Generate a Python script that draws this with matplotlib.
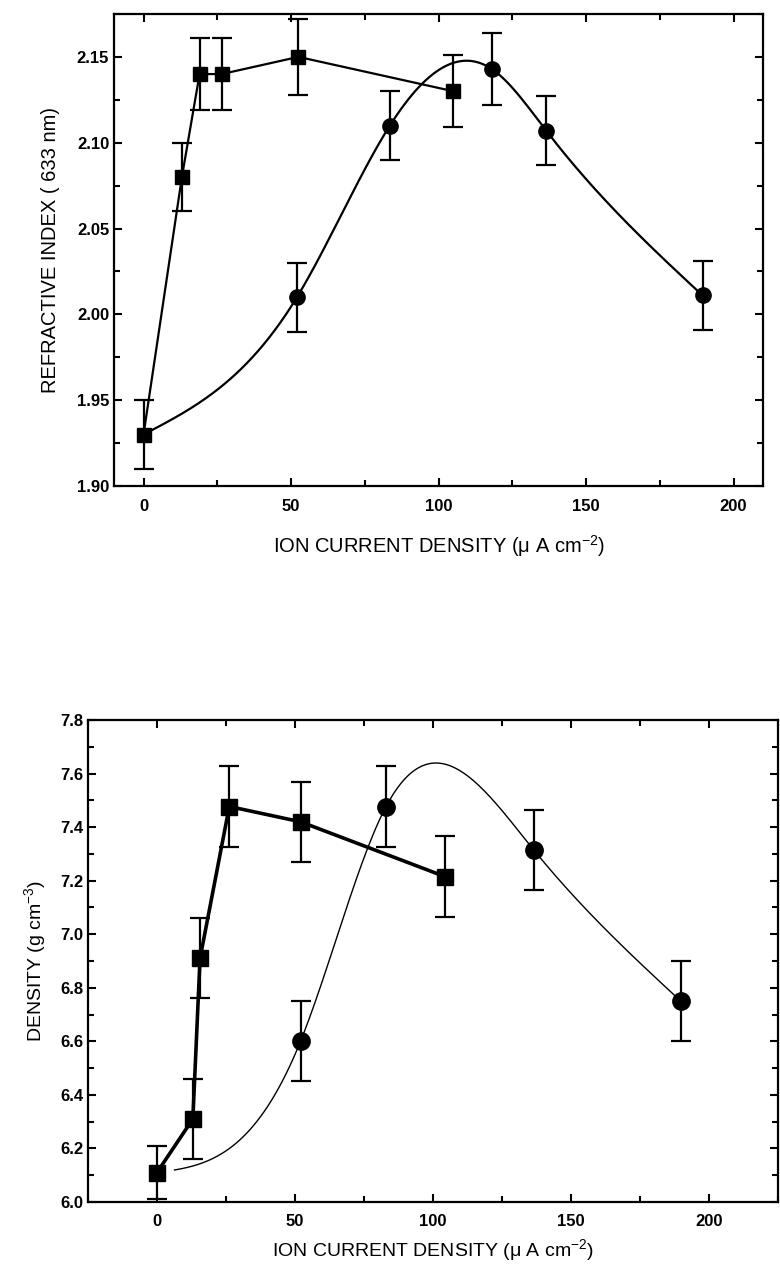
"""Refractive index and density vs ion current density"""

import matplotlib
matplotlib.use('Agg')
import matplotlib.pyplot as plt
import numpy as np
from matplotlib.ticker import MultipleLocator

plt.rcParams['font.family'] = ['Liberation Sans', 'DejaVu Sans']
plt.rcParams['mathtext.fontset'] = 'custom'
plt.rcParams['mathtext.rm'] = 'Liberation Sans'

# top panel: refractive index (633 nm)
ri_sq_x = [0, 13, 19, 26.5, 52.5, 105]
ri_sq_y = [1.93, 2.08, 2.14, 2.14, 2.15, 2.13]
ri_sq_err = [0.02, 0.02, 0.021, 0.021, 0.022, 0.021]
ri_ci_x = [0, 52, 83.5, 118, 136.5, 189.5]
ri_ci_y = [1.93, 2.01, 2.11, 2.143, 2.107, 2.011]
ri_ci_err = [0.02, 0.02, 0.02, 0.021, 0.02, 0.02]

# bottom panel: density
de_sq_x = [0, 13, 15.6, 26.2, 52, 104.4]
de_sq_y = [6.11, 6.31, 6.91, 7.477, 7.42, 7.215]
de_sq_err = [0.1, 0.15, 0.15, 0.15, 0.15, 0.15]
de_ci_x = [0, 52, 83, 136.5, 189.8]
de_ci_y = [6.11, 6.6, 7.477, 7.315, 6.75]
de_ci_err = [0.1, 0.15, 0.15, 0.15, 0.15]

xlabel = 'ION CURRENT DENSITY (\u03bc A cm$^{-2}$)'


def natural_spline(x, y, n=300):
    """Natural cubic spline through the points"""
    x = np.asarray(x, float)
    y = np.asarray(y, float)
    k = len(x)
    h = np.diff(x)
    A = np.zeros((k, k))
    b = np.zeros(k)
    A[0, 0] = A[-1, -1] = 1
    for i in range(1, k - 1):
        A[i, i - 1] = h[i - 1]
        A[i, i] = 2 * (h[i - 1] + h[i])
        A[i, i + 1] = h[i]
        b[i] = 6 * ((y[i + 1] - y[i]) / h[i] - (y[i] - y[i - 1]) / h[i - 1])
    M = np.linalg.solve(A, b)
    xs = np.linspace(x[0], x[-1], n)
    idx = np.clip(np.searchsorted(x, xs) - 1, 0, k - 2)
    x0, x1 = x[idx], x[idx + 1]
    hh = x1 - x0
    ys = (M[idx] * (x1 - xs) ** 3 / (6 * hh) + M[idx + 1] * (xs - x0) ** 3 / (6 * hh)
          + (y[idx] / hh - M[idx] * hh / 6) * (x1 - xs)
          + (y[idx + 1] / hh - M[idx + 1] * hh / 6) * (xs - x0))
    return xs, ys


def style_axes(ax, xminor, yminor, size, weight):
    ax.xaxis.set_minor_locator(MultipleLocator(xminor))
    ax.yaxis.set_minor_locator(MultipleLocator(yminor))
    ax.tick_params(which='both', direction='in', top=True, right=True, width=1.5)
    ax.tick_params(which='major', length=6)
    ax.tick_params(which='minor', length=4)
    ax.tick_params(axis='x', pad=9)
    for lab in ax.get_xticklabels() + ax.get_yticklabels():
        lab.set_fontsize(size)
        lab.set_fontweight(weight)
    for sp in ax.spines.values():
        sp.set_linewidth(1.6)


fig = plt.figure(figsize=(7.8, 12.71), dpi=100)

# ---- top panel
ax1 = fig.add_axes([0.1462, 0.6176, 0.8321, 0.3714])
sx, sy = natural_spline(ri_ci_x, ri_ci_y)
ax1.plot(sx, sy, color='black', lw=1.6)
ax1.plot(ri_sq_x, ri_sq_y, color='black', lw=1.6)
ax1.errorbar(ri_ci_x[1:], ri_ci_y[1:], yerr=ri_ci_err[1:], fmt='o', color='black',
             ms=11, capsize=7, elinewidth=1.6, capthick=1.6)
ax1.errorbar(ri_sq_x, ri_sq_y, yerr=ri_sq_err, fmt='s', color='black',
             ms=9.5, capsize=7, elinewidth=1.6, capthick=1.6)
ax1.set_xlim(-10, 210)
ax1.set_ylim(1.90, 2.175)
ax1.set_xticks([0, 50, 100, 150, 200])
ax1.set_yticks([1.90, 1.95, 2.00, 2.05, 2.10, 2.15])
ax1.set_yticklabels(['1.90', '1.95', '2.00', '2.05', '2.10', '2.15'])
style_axes(ax1, 25, 0.025, 12, 'bold')
ax1.set_xlabel(xlabel, fontsize=14.5, labelpad=14)
ax1.set_ylabel('REFRACTIVE INDEX ( 633 nm)', fontsize=14.5, labelpad=12)

# ---- bottom panel
ax2 = fig.add_axes([0.1128, 0.0543, 0.8846, 0.3792])
sx, sy = natural_spline(de_ci_x, de_ci_y)
ax2.plot(sx[10:], sy[10:], color='black', lw=1.0)
ax2.plot(de_sq_x, de_sq_y, color='black', lw=2.6)
ax2.errorbar(de_ci_x[1:], de_ci_y[1:], yerr=de_ci_err[1:], fmt='o', color='black',
             ms=12.5, capsize=7, elinewidth=1.6, capthick=1.6)
ax2.errorbar(de_sq_x, de_sq_y, yerr=de_sq_err, fmt='s', color='black',
             ms=11.5, capsize=7, elinewidth=1.6, capthick=1.6)
ax2.set_xlim(-25, 225)
ax2.set_ylim(6.0, 7.8)
ax2.set_xticks([0, 50, 100, 150, 200])
ax2.set_yticks(np.arange(6.0, 7.81, 0.2))
ax2.set_yticklabels(['%.1f' % v for v in np.arange(6.0, 7.81, 0.2)])
style_axes(ax2, 25, 0.1, 12, 'bold')
ax2.set_xlabel(xlabel, fontsize=14, labelpad=6)
ax2.set_ylabel('DENSITY (g cm$^{-3}$)', fontsize=14, labelpad=8)

fig.savefig('out.png', dpi=100)
